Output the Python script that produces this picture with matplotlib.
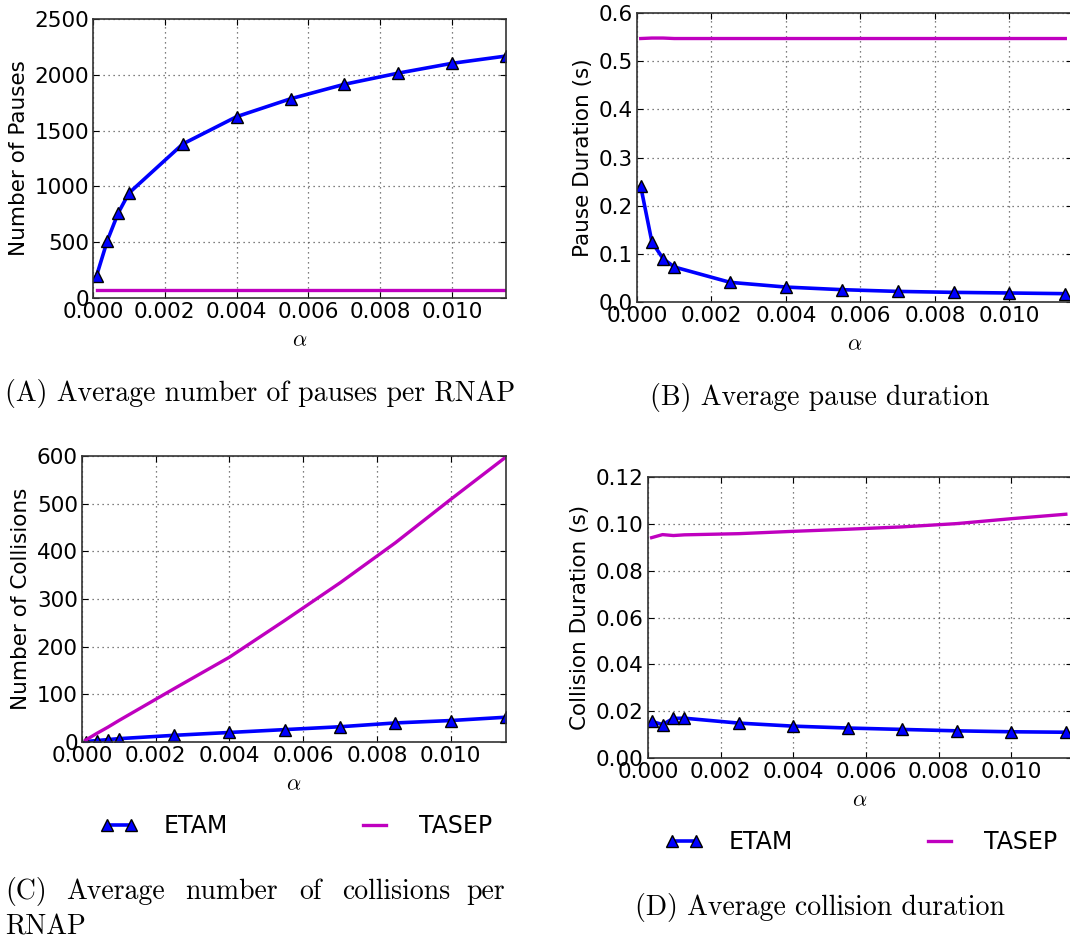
import matplotlib
matplotlib.use("Agg")
from matplotlib import pyplot as plt

plt.rcParams["mathtext.fontset"] = "cm"
plt.rcParams["font.family"] = "DejaVu Sans"

# alpha values of the simulations
alpha = [0.0001, 0.0004, 0.0007, 0.001, 0.0025, 0.004, 0.0055, 0.007, 0.0085, 0.010, 0.0115]

# (A) average number of pauses per RNAP
pauses_etam = [200, 515, 760, 940, 1380, 1625, 1785, 1915, 2015, 2103, 2168]
pauses_tasep = [75, 75, 75, 75, 75, 75, 75, 75, 75, 75, 75]

# (B) average pause duration (s)
pdur_etam = [0.240, 0.1246, 0.090, 0.0727, 0.0408, 0.031, 0.0256, 0.022, 0.020, 0.0187, 0.0173]
pdur_tasep = [0.547, 0.548, 0.548, 0.547, 0.547, 0.547, 0.547, 0.547, 0.547, 0.547, 0.547]

# (C) average number of collisions per RNAP
coll_etam = [1, 3, 5, 7, 14, 20, 26, 32, 40, 45, 52]
coll_tasep = [4, 18, 31, 45, 112, 178, 255, 334, 418, 509, 598]

# (D) average collision duration (s)
cdur_etam = [0.0156, 0.0143, 0.0169, 0.0170, 0.0149, 0.0136, 0.0128, 0.0122, 0.0116, 0.0112, 0.0110]
cdur_tasep = [0.0941, 0.0954, 0.0950, 0.0953, 0.0958, 0.0968, 0.0977, 0.0987, 0.1001, 0.1022, 0.1041]

W, H = 1070, 943
fig = plt.figure(figsize=(W / 100, H / 100), dpi=100)


def px_axes(left, top, right, bottom):
    return fig.add_axes([left / W, 1 - bottom / H, (right - left) / W, (bottom - top) / H])


def draw(ax, y_etam, y_tasep, xmax, ylim, yticks, yfmt, ylabel):
    l1, = ax.plot(alpha, y_etam, "b-", lw=2.6, marker="^", ms=8, mfc="b", mec="k", mew=1, label="ETAM")
    l2, = ax.plot(alpha, y_tasep, "-", color=(0.75, 0, 0.75), lw=2.4, label="TASEP")
    ax.set_xlim(0, xmax)
    ax.set_ylim(*ylim)
    ax.set_xticks([0.0, 0.002, 0.004, 0.006, 0.008, 0.010])
    ax.set_xticklabels(["0.000", "0.002", "0.004", "0.006", "0.008", "0.010"])
    ax.set_yticks(yticks)
    ax.set_yticklabels([yfmt.format(v) for v in yticks])
    ax.grid(True, color="#555555", ls=(0, (1, 3)), lw=0.9)
    ax.tick_params(direction="in", top=True, right=True, length=4, labelsize=15.5, pad=3)
    for s in ax.spines.values():
        s.set_color("#333333")
        s.set_linewidth(1.2)
    ax.set_ylabel(ylabel, fontsize=15.5, labelpad=4)
    ax.set_xlabel(r"$\alpha$", fontsize=16, labelpad=6)
    return l1, l2


axA = px_axes(93, 19, 506, 298)
draw(axA, pauses_etam, pauses_tasep, 0.0115, (0, 2500), [0, 500, 1000, 1500, 2000, 2500], "{:.0f}", "Number of Pauses")

axB = px_axes(637, 13, 1072, 302)
draw(axB, pdur_etam, pdur_tasep, 0.01168, (0, 0.6), [0.0, 0.1, 0.2, 0.3, 0.4, 0.5, 0.6], "{:.1f}", "Pause Duration (s)")

axC = px_axes(82, 456, 506, 742)
h1, h2 = draw(axC, coll_etam, coll_tasep, 0.0115, (0, 600), [0, 100, 200, 300, 400, 500, 600], "{:.0f}", "Number of Collisions")

axD = px_axes(648, 477, 1072, 758)
draw(axD, cdur_etam, cdur_tasep, 0.01167, (0, 0.12), [0.0, 0.02, 0.04, 0.06, 0.08, 0.10, 0.12], "{:.2f}", "Collision Duration (s)")

# legends below the lower panels
for x0, y0 in [(100, 826), (665, 842)]:
    fig.legend([h1, h2], ["ETAM", "TASEP"], loc="center left",
               bbox_to_anchor=(x0 / W, 1 - y0 / H), ncol=2, frameon=False,
               fontsize=17, numpoints=2, handlelength=1.6, handletextpad=1.1,
               columnspacing=5.4, borderpad=0, borderaxespad=0)

# captions
cap = dict(family="cmr10", fontsize=20, va="center")
fig.text(5 / W, 1 - 393 / H, "(A) Average number of pauses per RNAP", ha="left", **cap)
fig.text(820 / W, 1 - 398 / H, "(B) Average pause duration", ha="center", **cap)
for word, xw in [("(C)", 5), ("Average", 66), ("number", 185), ("of", 299), ("collisions", 342), ("per", 466)]:
    fig.text(xw / W, 1 - 892 / H, word, ha="left", **cap)
fig.text(5 / W, 1 - 927 / H, "RNAP", ha="left", **cap)
fig.text(820 / W, 1 - 907 / H, "(D) Average collision duration", ha="center", **cap)

fig.savefig("out.png", dpi=100)
